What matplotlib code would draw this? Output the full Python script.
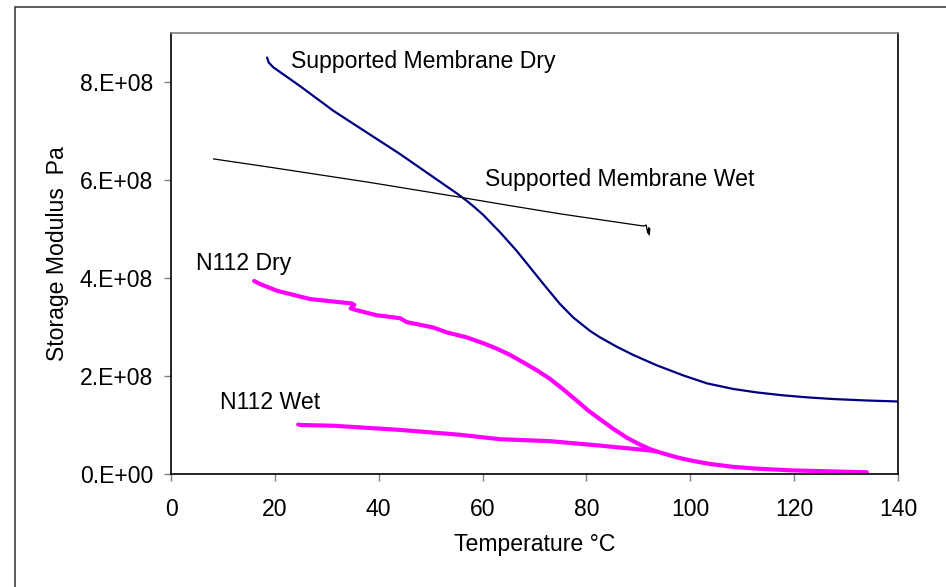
import matplotlib
matplotlib.use("Agg")
import matplotlib.pyplot as plt
from matplotlib.patches import Rectangle

plt.rcParams['font.family'] = ['Liberation Sans', 'DejaVu Sans']

# --- data ---
sm_dry_T = [18.5, 18.8, 19.7, 24.8, 31.3, 37.7, 44.1, 50.5, 55.0, 56.9, 58.5, 60.1, 63.4,
            66.6, 69.8, 71.7, 74.9, 77.5, 80.7, 82.6, 85.8, 89.0, 93.5, 98.7, 103.2,
            108.3, 112.8, 117.9, 122.4, 127.5, 134.0, 140.0]
sm_dry_E = [8.50e8, 8.40e8, 8.30e8, 7.92e8, 7.41e8, 6.97e8, 6.53e8, 6.06e8, 5.73e8, 5.58e8,
            5.44e8, 5.29e8, 4.93e8, 4.55e8, 4.13e8, 3.88e8, 3.47e8, 3.19e8, 2.92e8, 2.79e8,
            2.60e8, 2.43e8, 2.22e8, 2.01e8, 1.85e8, 1.735e8, 1.665e8, 1.605e8, 1.565e8,
            1.53e8, 1.50e8, 1.48e8]

sm_wet_T = [8.2, 19.1, 38.3, 55.6, 63.4, 74.9, 91.0, 91.5, 91.8, 92.0, 92.1, 92.2]
sm_wet_E = [6.43e8, 6.26e8, 5.95e8, 5.65e8, 5.51e8, 5.31e8, 5.06e8, 5.08e8, 4.92e8, 5.03e8,
            4.88e8, 5.00e8]

n112_dry_T = [16.0, 17.1, 20.4, 26.8, 31.3, 34.8, 35.3, 34.6, 35.5, 39.6, 44.1, 45.4,
              50.5, 53.1, 56.9, 60.1, 62.7, 65.3, 67.8, 70.4, 73.0, 75.5, 78.1, 80.4,
              82.6, 85.2, 87.8, 90.3, 92.2, 93.5, 97.4, 99.9, 101.9, 103.8, 108.3, 112.8,
              119.2, 134.0]
n112_dry_E = [3.94e8, 3.88e8, 3.74e8, 3.57e8, 3.52e8, 3.48e8, 3.45e8, 3.38e8, 3.35e8, 3.24e8,
              3.18e8, 3.10e8, 2.99e8, 2.89e8, 2.79e8, 2.67e8, 2.56e8, 2.43e8, 2.28e8, 2.12e8,
              1.94e8, 1.73e8, 1.50e8, 1.29e8, 1.12e8, 0.92e8, 0.74e8, 0.60e8, 0.51e8, 0.46e8,
              0.34e8, 0.28e8, 0.24e8, 0.205e8, 0.145e8, 0.11e8, 0.075e8, 0.035e8]

n112_wet_T = [24.5, 25.0, 31.3, 44.1, 55.7, 63.4, 73.0, 82.6, 92.2, 93.5]
n112_wet_E = [1.01e8, 1.00e8, 0.985e8, 0.90e8, 0.80e8, 0.71e8, 0.67e8, 0.58e8, 0.48e8, 0.46e8]

x_ticks = [0, 20, 40, 60, 80, 100, 120, 140]
y_ticks = [0, 2e8, 4e8, 6e8, 8e8]
y_tick_labels = ["0.E+00", "2.E+08", "4.E+08", "6.E+08", "8.E+08"]

labels = ["Supported Membrane Dry", "Supported Membrane Wet", "N112 Dry", "N112 Wet"]

fig = plt.figure(figsize=(9.46, 5.87), dpi=100)
ax = fig.add_axes([171/946, 1-474/587, (898-171)/946, (474-33)/587])

ax.plot(sm_dry_T, sm_dry_E, color='#000080', lw=1.6, solid_capstyle='round',
        solid_joinstyle='round')
ax.plot(sm_wet_T, sm_wet_E, color='black', lw=0.9)
ax.plot(n112_dry_T, n112_dry_E, color='#FF00FF', lw=3.0, solid_capstyle='round',
        solid_joinstyle='round')
ax.plot(n112_wet_T, n112_wet_E, color='#FF00FF', lw=3.0, solid_capstyle='round',
        solid_joinstyle='round')

fs = 16.6
ax.text(23.2, 8.41e8, labels[0], fontsize=fs, ha='left', va='center')
ax.text(60.5, 6.02e8, labels[1], fontsize=fs, ha='left', va='center')
ax.text(4.75, 4.29e8, labels[2], fontsize=fs, ha='left', va='center')
ax.text(9.4, 1.45e8, labels[3], fontsize=fs, ha='left', va='center')

ax.set_xlim(0, 140)
ax.set_ylim(0, 9e8)
ax.set_xticks(x_ticks)
ax.set_xticklabels([str(t) for t in x_ticks])
ax.set_yticks(y_ticks)
ax.set_yticklabels(y_tick_labels)
ax.tick_params(axis='both', direction='out', length=5, width=1, color='#808080',
               labelsize=fs, pad=8)
ax.tick_params(axis='x', pad=12)

ax.spines['top'].set_color('#808080')
for s in ['left', 'bottom', 'right']:
    ax.spines[s].set_color('black')
for s in ax.spines.values():
    s.set_linewidth(1.2)

ax.set_xlabel("Temperature \u00b0C", fontsize=fs, labelpad=9)
ax.set_ylabel("Storage Modulus  Pa", fontsize=fs, labelpad=8)

fig.patches.append(Rectangle((15/946, -0.2), 1.5, 1.2 - 7/587, transform=fig.transFigure,
                             fill=False, edgecolor='#404040', lw=1.2))

fig.savefig("out.png", dpi=100)
